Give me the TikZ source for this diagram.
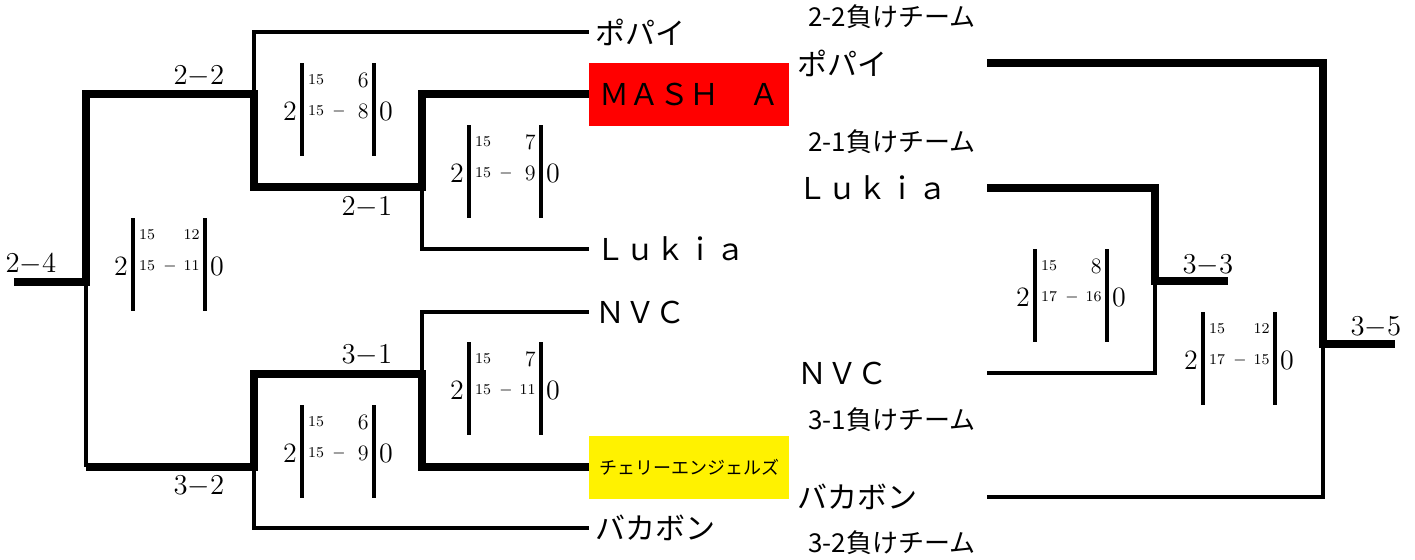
\documentclass[tikz,border=0pt]{standalone}
\usepackage{fontspec}
\newfontfamily\jp{Noto Sans CJK JP}
\usetikzlibrary{positioning,calc}
\newcommand{\scnum}[1]{\ifnum#1>9 {\fontsize{7.5}{9}\selectfont#1}\else{\fontsize{11}{13}\selectfont#1}\fi}
\newcommand{\scorebox}[7]{%
  \draw[bar] (#2,#3) -- ++(0,93) (#2+72,#3) -- ++(0,93);
  \node[sbig] (#1-a) at (#2-12,#3+48) {2};
  \node[sbig] (#1-b) at (#2+84,#3+48) {0};
  \node[ssmall] (#1-tl) at (#2+14,#3+17) {#4};
  \node[ssmall] (#1-bl) at (#2+14,#3+48) {#6};
  \node[sdash] (#1-d) at (#2+37,#3+48) {$-$};
  \node[inner sep=0pt, anchor=east] (#1-tr) at (#2+67,#3+17) {\scnum{#5}};
  \node[inner sep=0pt, anchor=east] (#1-br) at (#2+67,#3+48) {\scnum{#7}};
}
\tikzset{
  win/.style={line width=4pt},
  lose/.style={line width=1.6pt},
  bar/.style={line width=1.6pt},
  team/.style={anchor=west, inner xsep=3pt, font=\jp\fontsize{15}{18}\selectfont},
  hilite/.style={team, inner xsep=0pt, minimum width=100pt, minimum height=31.5pt},
  loser/.style={anchor=west, inner sep=0pt, font=\jp\fontsize{13}{15}\selectfont},
  round/.style={font=\fontsize{14}{17}\selectfont, inner sep=0pt},
  sbig/.style={font=\fontsize{14}{16}\selectfont, inner sep=0pt},
  ssmall/.style={font=\fontsize{7.5}{9}\selectfont, inner sep=0pt},
  sdash/.style={font=\fontsize{8}{10}\selectfont, inner sep=0pt},
}

\begin{document}
\begin{tikzpicture}[x=0.5pt, y=-0.5pt]
\useasboundingbox (0,0) rectangle (1415,559);
\coordinate (e24) at (14,281.5);
\coordinate (m24) at (86,281.5);
\coordinate (b24) at (86,467);
\coordinate (m22) at (254,94);
\coordinate (m21) at (422,187);
\coordinate (m32) at (254,467);
\coordinate (m31) at (422,374);
\coordinate (s22) at (987,63);
\coordinate (s21) at (987,188);
\coordinate (s31) at (987,373);
\coordinate (s32) at (987,497);
\coordinate (m33) at (1155,281);
\coordinate (e33) at (1228,281);
\coordinate (m35) at (1323,343.5);
\coordinate (e35) at (1395,343.5);

\node[team] (popaiA) at (589,32) {ポパイ};
\node[hilite, fill=red] (mashA) at (589,94) {ＭＡＳＨ　Ａ};
\node[team] (lukiaA) at (589,249) {Ｌｕｋｉａ};
\node[team] (nvcA) at (589,312) {ＮＶＣ};
\node[hilite, fill=yellow, font=\jp\fontsize{9}{11}\selectfont] (cherryA) at (589,467) {チェリーエンジェルズ};
\node[team] (bakaA) at (589,528) {バカボン};

\node[loser] (lose22) at (808,17) {2-2負けチーム};
\node[team] (popaiB) at (791,63) {ポパイ};
\node[loser] (lose21) at (808,142) {2-1負けチーム};
\node[team] (lukiaB) at (791,188) {Ｌｕｋｉａ};
\node[team] (nvcB) at (791,373) {ＮＶＣ};
\node[loser] (lose31) at (808,420) {3-1負けチーム};
\node[team] (bakaB) at (791,497) {バカボン};
\node[loser] (lose32) at (808,543) {3-2負けチーム};

\node[round] (lab24) at (31,264) {$2{-}4$};
\node[round] (lab22) at (199,76) {$2{-}2$};
\node[round] (lab21) at (367,207) {$2{-}1$};
\node[round] (lab31) at (367,355) {$3{-}1$};
\node[round] (lab32) at (199,486) {$3{-}2$};
\node[round] (lab33) at (1208,265) {$3{-}3$};
\node[round] (lab35) at (1376,327) {$3{-}5$};

\draw[win] (e24) -- (m24) |- (m22) |- (m21) |- (mashA.west);
\draw[lose] (m24) -- (b24);
\draw[win] (b24) -- (m32) |- (m31) |- (cherryA.west);
\draw[lose] (m22) |- (popaiA.west);
\draw[lose] (m21) |- (lukiaA.west);
\draw[lose] (m31) |- (nvcA.west);
\draw[lose] (m32) |- (bakaA.west);
\draw[win] (s22) -| (m35) -- (e35);
\draw[lose] (s32) -| (m35);
\draw[win] (s21) -| (m33) -- (e33);
\draw[lose] (s31) -| (m33);

\scorebox{sc1}{133}{218}{15}{12}{15}{11}
\scorebox{sc2}{302}{63}{15}{6}{15}{8}
\scorebox{sc3}{469}{125}{15}{7}{15}{9}
\scorebox{sc4}{469}{342}{15}{7}{15}{11}
\scorebox{sc5}{302}{405}{15}{6}{15}{9}
\scorebox{sc6}{1035}{249}{15}{8}{17}{16}
\scorebox{sc7}{1203}{312}{15}{12}{17}{15}
\end{tikzpicture}
\end{document}
